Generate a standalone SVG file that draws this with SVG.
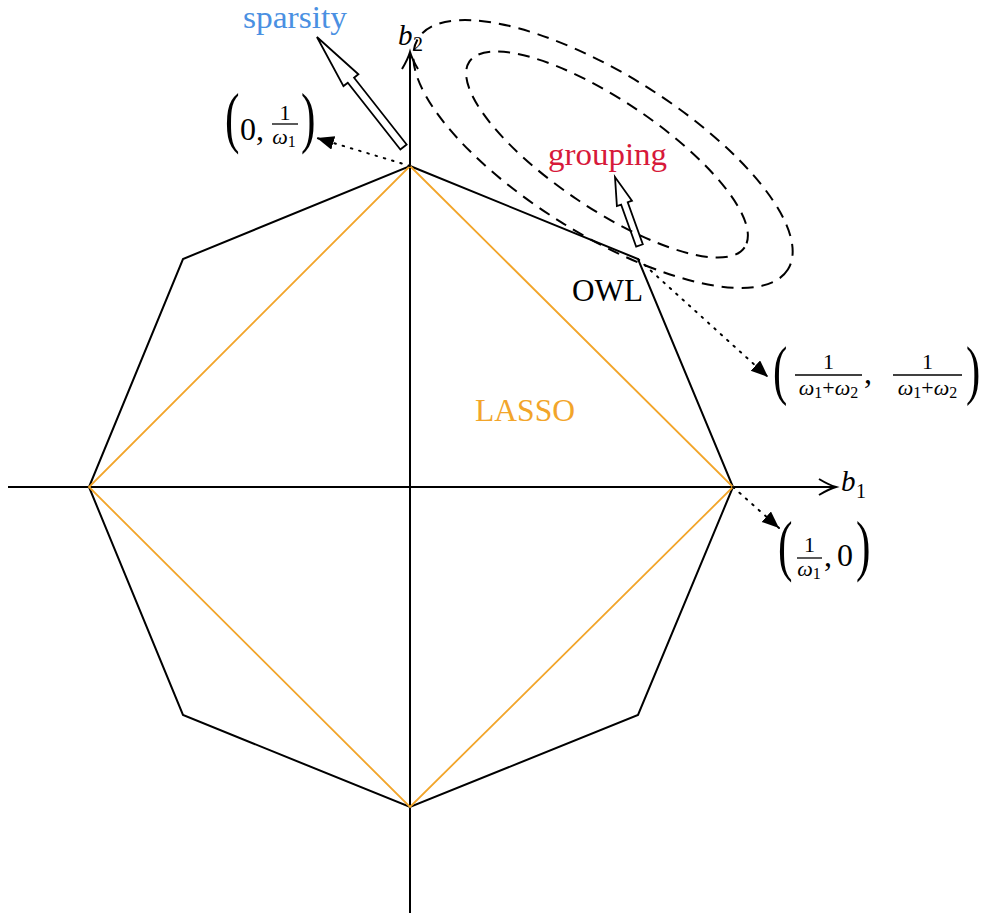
<svg xmlns="http://www.w3.org/2000/svg" width="984" height="914" viewBox="0 0 984 914">
<style>
.ax{stroke:#000;stroke-width:2;fill:none}
.oct{stroke:#000;stroke-width:2;fill:none;stroke-linejoin:miter}
.las{stroke:#F2A52A;stroke-width:1.8;fill:none}
.ell{stroke:#000;stroke-width:2;fill:none;stroke-dasharray:12 8}
.dot{stroke:#000;stroke-width:2;fill:none;stroke-dasharray:1.6 7;stroke-linecap:round}
.hol{stroke:#000;stroke-width:1.8;fill:none;stroke-linejoin:miter}
.t{font-family:"Liberation Serif","DejaVu Serif",serif;font-size:32px}
.m{font-family:"Liberation Serif","DejaVu Serif",serif;font-style:italic}
.n{font-family:"Liberation Serif","DejaVu Serif",serif}
.bar{stroke:#000;stroke-width:1.3}
</style>
<defs>
<marker id="lt" markerUnits="userSpaceOnUse" markerWidth="20" markerHeight="16" refX="17" refY="7" orient="auto">
<path d="M0,0 L17,7 L0,14 Z" fill="#000"/>
</marker>
</defs>
<rect width="984" height="914" fill="#fff"/>

<g id="axes">
<line class="ax" x1="8" y1="487" x2="835" y2="487"/>
<path class="ax" d="M819,479 Q829,485 836,487 Q829,489 819,495"/>
<line class="ax" x1="410" y1="913" x2="410" y2="53"/>
<path class="ax" d="M402,69 Q408,59 410,52 Q412,59 418,69"/>
<text class="m" x="841" y="491" font-size="29">b</text>
<text class="n" x="856" y="498" font-size="20">1</text>
<text class="m" x="398" y="45" font-size="29">b</text>
<text class="n" x="413" y="51" font-size="20">2</text>
</g>

<g id="owl">
<polygon class="oct" points="410,166 638,259 733,487 638,715 410,807 183,715 89,487 183,259"/>
<text class="t" x="572" y="301" textLength="71" lengthAdjust="spacingAndGlyphs">OWL</text>
</g>

<g id="lasso">
<polygon class="las" points="410,166 733,487 410,807 89,487"/>
<text class="t" x="475" y="421" fill="#F2A52A" textLength="100" lengthAdjust="spacingAndGlyphs">LASSO</text>
</g>

<g id="sparsity">
<polygon class="hol" transform="translate(403.5,147) rotate(-128.2)" points="0,-4 85,-4 85,-9.5 140,0 85,9.5 85,4 0,4"/>
<text class="t" x="243" y="28" fill="#4A90E2" textLength="104" lengthAdjust="spacingAndGlyphs">sparsity</text>
</g>

<g id="grouping">
<polygon class="hol" transform="translate(639.5,245.5) rotate(-109.7)" points="0,-3.5 44.7,-3.5 44.7,-8 72.7,0 44.7,8 44.7,3.5 0,3.5"/>
<text class="t" x="548" y="165" fill="#D7193A" textLength="119" lengthAdjust="spacingAndGlyphs">grouping</text>
</g>

<g id="contours">
<ellipse class="ell" cx="603" cy="154" rx="218" ry="80" transform="rotate(32 603 154)"/>
<ellipse class="ell" cx="607" cy="154.5" rx="166" ry="54" transform="rotate(34 607 154.5)"/>
</g>

<g id="connectors">
<line class="dot" x1="410" y1="166" x2="317" y2="138" marker-end="url(#lt)"/>
<line class="dot" x1="638" y1="259" x2="768" y2="377" marker-end="url(#lt)"/>
<line class="dot" x1="733" y1="487" x2="779" y2="528" marker-end="url(#lt)"/>
</g>

<g id="label-top">
<text class="n" font-size="67" transform="translate(225,140) scale(0.65,1)">(</text>
<text class="n" x="240" y="140" font-size="32">0,</text>
<text class="n" x="285" y="120" font-size="22" text-anchor="middle">1</text>
<line class="bar" x1="272" y1="124" x2="298" y2="124"/>
<text x="284" y="144" font-size="22" text-anchor="middle"><tspan class="m">ω</tspan><tspan class="n" font-size="16" dy="3">1</tspan></text>
<text class="n" font-size="67" transform="translate(301,140) scale(0.65,1)">)</text>
</g>

<g id="label-mid">
<text class="n" font-size="66" transform="translate(773,391.5) scale(0.65,1)">(</text>
<text class="n" x="828.5" y="369" font-size="22" text-anchor="middle">1</text>
<line class="bar" x1="795" y1="375" x2="862" y2="375"/>
<text x="828.5" y="395" font-size="22" text-anchor="middle"><tspan class="m">ω</tspan><tspan class="n" font-size="16" dy="3">1</tspan><tspan class="n" dy="-3">+</tspan><tspan class="m">ω</tspan><tspan class="n" font-size="16" dy="3">2</tspan></text>
<text class="n" x="864" y="383" font-size="32">,</text>
<text class="n" x="927.5" y="369" font-size="22" text-anchor="middle">1</text>
<line class="bar" x1="893" y1="375" x2="962" y2="375"/>
<text x="927.5" y="395" font-size="22" text-anchor="middle"><tspan class="m">ω</tspan><tspan class="n" font-size="16" dy="3">1</tspan><tspan class="n" dy="-3">+</tspan><tspan class="m">ω</tspan><tspan class="n" font-size="16" dy="3">2</tspan></text>
<text class="n" font-size="66" transform="translate(966,391.5) scale(0.65,1)">)</text>
</g>

<g id="label-right">
<text class="n" font-size="67" transform="translate(778,568) scale(0.65,1)">(</text>
<text class="n" x="809.5" y="552" font-size="22" text-anchor="middle">1</text>
<line class="bar" x1="797" y1="558" x2="822" y2="558"/>
<text x="809" y="576" font-size="22" text-anchor="middle"><tspan class="m">ω</tspan><tspan class="n" font-size="16" dy="3">1</tspan></text>
<text class="n" x="824" y="566" font-size="32">,</text>
<text class="n" x="837" y="566" font-size="32">0</text>
<text class="n" font-size="67" transform="translate(856,568) scale(0.65,1)">)</text>
</g>
</svg>
